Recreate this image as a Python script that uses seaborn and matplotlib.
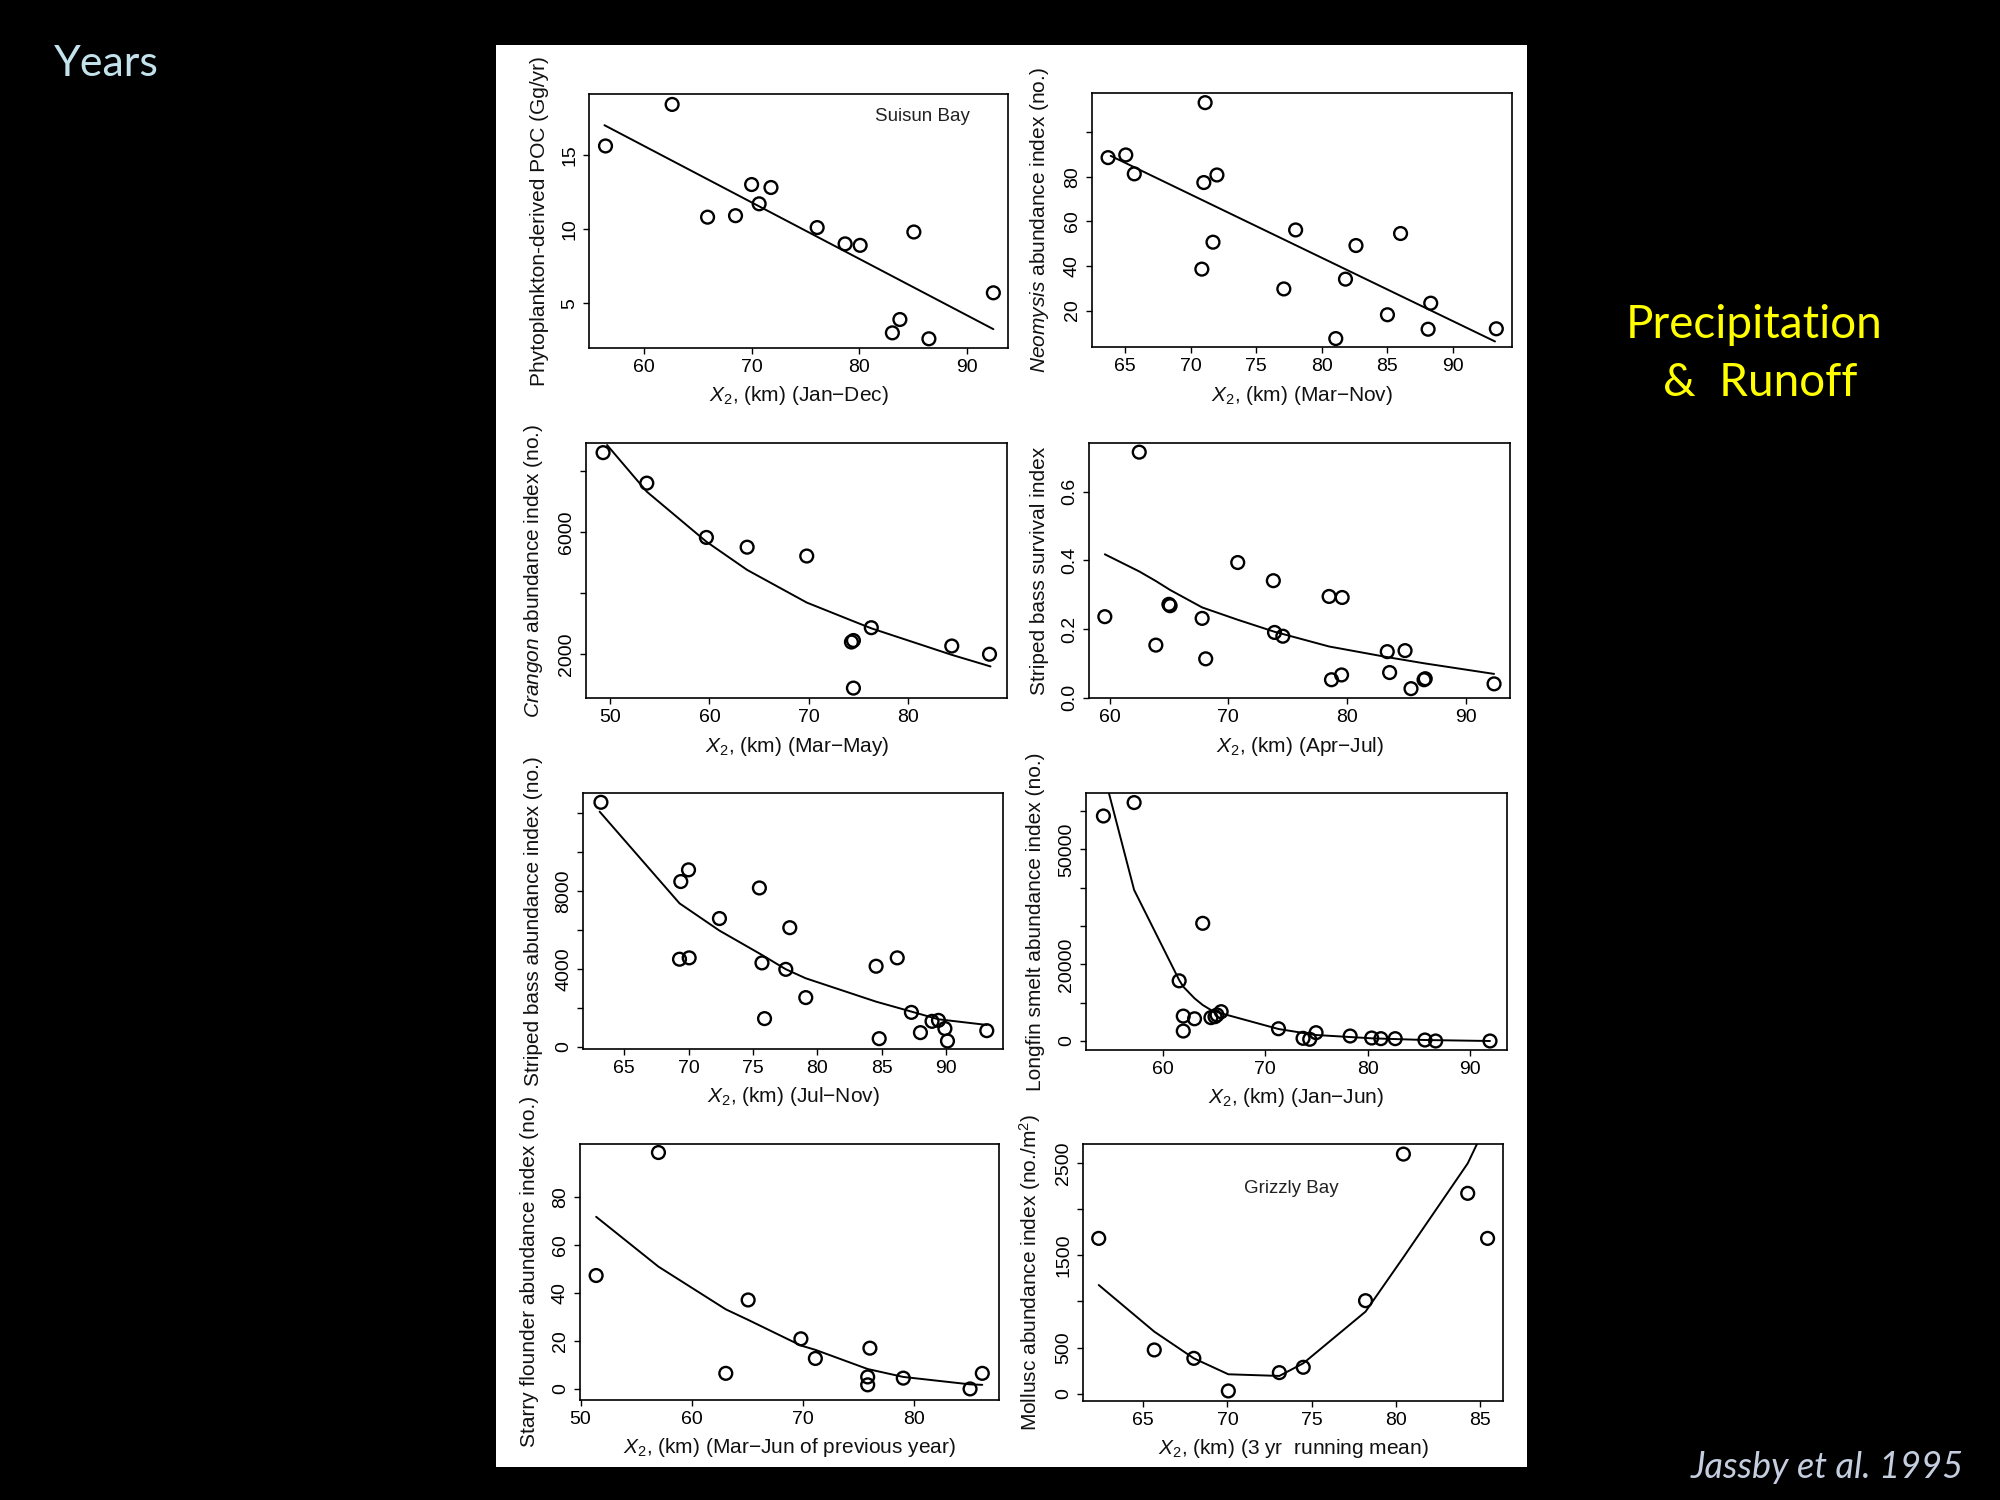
import matplotlib
matplotlib.use("Agg")
import matplotlib.pyplot as plt
from matplotlib.patches import Rectangle
import seaborn as sns

# Suisun Bay, phytoplankton-derived POC vs X2 (Jan-Dec)
poc_x = [56.4, 62.6, 65.9, 68.5, 70.0, 70.7, 71.8, 76.1, 78.7, 80.1, 85.1, 83.1, 83.8, 86.5, 92.5]
poc_y = [15.6, 18.4, 10.8, 10.9, 13.0, 11.7, 12.8, 10.1, 9.0, 8.9, 9.8, 3.0, 3.9, 2.6, 5.7]
poc_fit_x = [56.3, 92.5]
poc_fit_y = [17.0, 3.25]

# Neomysis (Mar-Nov)
neo_x = [63.7, 65.05, 65.7, 71.1, 71.0, 72.0, 71.7, 70.85, 77.1, 78.0, 81.06, 81.8, 82.6, 85.0, 86.0, 88.3, 88.1, 93.3]
neo_y = [88.7, 89.9, 81.4, 113.4, 77.5, 80.9, 50.7, 38.6, 29.7, 56.2, 7.4, 34.1, 49.2, 18.1, 54.6, 23.3, 11.6, 11.8]
neo_fit_x = [63.9, 93.2]
neo_fit_y = [89.5, 6.1]

# Crangon (Mar-May)
cra_x = [49.3, 53.7, 59.7, 63.8, 69.8, 74.3, 74.5, 74.5, 76.3, 84.4, 88.2]
cra_y = [8610, 7610, 5830, 5510, 5220, 2400, 2450, 890, 2870, 2270, 2000]
cra_fit_x = [49.7, 53.7, 59.7, 63.8, 69.8, 74.4, 76.3, 84.4, 88.3]
cra_fit_y = [8860, 7330, 5690, 4765, 3695, 3095, 2850, 1980, 1600]

# striped bass survival (Apr-Jul)
sbs_x = [62.5, 59.6, 63.9, 65.0, 65.1, 67.8, 68.1, 70.8, 73.8, 73.9, 74.6, 78.5, 79.6, 78.7, 79.55,
         83.4, 83.6, 84.9, 85.4, 86.5, 86.6, 92.4]
sbs_y = [0.716, 0.236, 0.153, 0.272, 0.268, 0.231, 0.113, 0.394, 0.341, 0.190, 0.179, 0.295, 0.292,
         0.052, 0.066, 0.134, 0.073, 0.137, 0.026, 0.052, 0.055, 0.040]
sbs_fit_x = [59.6, 62.5, 63.9, 65.1, 67.8, 70.8, 73.9, 78.5, 83.4, 86.5, 92.4]
sbs_fit_y = [0.418, 0.368, 0.340, 0.314, 0.263, 0.227, 0.192, 0.149, 0.118, 0.100, 0.069]

# striped bass abundance (Jul-Nov)
sba_x = [63.2, 69.4, 70.0, 69.3, 70.05, 72.4, 75.5, 75.7, 75.9, 77.55, 77.86, 79.1, 84.56, 84.8,
         86.2, 87.3, 88.0, 88.9, 89.4, 89.9, 90.1, 93.15]
sba_y = [12550, 8480, 9080, 4490, 4560, 6580, 8150, 4300, 1440, 3970, 6110, 2520, 4130, 410,
         4560, 1760, 720, 1300, 1350, 930, 290, 820]
sba_fit_x = [63.1, 69.3, 72.4, 75.7, 77.55, 79.1, 84.56, 87.3, 89.4, 93.15]
sba_fit_y = [12070, 7360, 5960, 4710, 3975, 3510, 2310, 1800, 1405, 1115]

# longfin smelt (Jan-Jun)
lfs_x = [54.2, 57.2, 63.9, 61.6, 62.0, 62.0, 63.1, 64.7, 65.1, 65.3, 65.7, 71.3, 73.7, 74.35, 74.97,
         78.3, 80.4, 81.3, 82.7, 85.6, 86.65, 91.96]
lfs_y = [58700, 62200, 30700, 15700, 6500, 2600, 5800, 6100, 6350, 6800, 7650, 3200, 700, 450, 2170,
         1300, 780, 610, 610, 260, 0, 0]
lfs_fit_x = [54.2, 57.2, 61.6, 62.0, 63.1, 63.9, 64.7, 65.7, 71.3, 74.97, 80.4, 85.6, 91.96]
lfs_fit_y = [70200, 39400, 15900, 14170, 11130, 9390, 8090, 7220, 3130, 1565, 700, 260, 0]

# starry flounder (Mar-Jun of previous year)
sf_x = [51.4, 57.0, 63.05, 65.06, 69.8, 71.1, 76.0, 75.8, 75.8, 79.0, 85.0, 86.1]
sf_y = [47.3, 98.6, 6.5, 37.1, 20.9, 12.7, 17.0, 5.0, 1.7, 4.5, 0.0, 6.5]
sf_fit_x = [51.4, 57.0, 63.05, 65.06, 69.8, 71.1, 75.8, 79.0, 85.0, 86.1]
sf_fit_y = [71.8, 51.0, 33.2, 28.8, 18.1, 16.3, 8.3, 5.0, 1.9, 1.7]

# Grizzly Bay molluscs (3 yr running mean)
mol_x = [62.35, 65.65, 68.0, 70.05, 73.08, 74.5, 78.2, 80.45, 84.27, 85.45]
mol_y = [1685, 474, 383, 29, 228, 286, 1009, 2600, 2174, 1685]
mol_fit_x = [62.35, 65.65, 68.0, 70.05, 73.08, 74.5, 78.2, 80.45, 84.27, 85.45]
mol_fit_y = [1179, 673, 383, 210, 192, 329, 890, 1480, 2499, 2950]

MINUS = '\u2212'

sns.set_theme(style="ticks")
plt.rcParams['font.family'] = ['Liberation Sans', 'DejaVu Sans']
plt.rcParams.update({
    'mathtext.fontset': 'custom',
    'mathtext.rm': 'Liberation Sans',
    'mathtext.it': 'Liberation Sans:italic',
    'mathtext.bf': 'Liberation Sans:bold',
    'axes.edgecolor': 'black',
    'axes.linewidth': 1.2,
    'xtick.color': 'black',
    'ytick.color': 'black',
    'xtick.major.size': 4.5,
    'ytick.major.size': 4.5,
    'xtick.major.width': 1.0,
    'ytick.major.width': 1.0,
    'xtick.major.pad': 3.5,
    'ytick.major.pad': 3.5,
})

panels = [
    dict(pos=[0.2947, 0.7682, 0.2095, 0.1691], x=poc_x, y=poc_y, fx=poc_fit_x, fy=poc_fit_y,
         xlim=(54.9, 93.9), ylim=(2.0, 19.1), xticks=[60, 70, 80, 90],
         yticks=[5, 10, 15], ylab=['5', '10', '15'],
         xlabel=r'$X_2$, (km) (Jan' + MINUS + 'Dec)',
         ylabel='Phytoplankton-derived POC (Gg/yr)', note=('Suisun Bay', 85.9, 17.6)),
    dict(pos=[0.5459, 0.7685, 0.2100, 0.1693], x=neo_x, y=neo_y, fx=neo_fit_x, fy=neo_fit_y,
         xlim=(62.46, 94.48), ylim=(3.5, 117.6), xticks=[65, 70, 75, 80, 85, 90],
         yticks=[20, 40, 60, 80, 100], ylab=['20', '40', '60', '80', ''],
         xlabel=r'$X_2$, (km) (Mar' + MINUS + 'Nov)',
         ylabel=r'$\mathit{Neomysis}$ abundance index (no.)', note=None),
    dict(pos=[0.2930, 0.5345, 0.2107, 0.1700], x=cra_x, y=cra_y, fx=cra_fit_x, fy=cra_fit_y,
         xlim=(47.58, 90.0), ylim=(557, 8918), xticks=[50, 60, 70, 80],
         yticks=[2000, 4000, 6000, 8000], ylab=['2000', '', '6000', ''],
         xlabel=r'$X_2$, (km) (Mar' + MINUS + 'May)',
         ylabel=r'$\mathit{Crangon}$ abundance index (no.)', note=None),
    dict(pos=[0.5447, 0.5345, 0.2104, 0.1700], x=sbs_x, y=sbs_y, fx=sbs_fit_x, fy=sbs_fit_y,
         xlim=(58.3, 93.76), ylim=(-0.002, 0.742), xticks=[60, 70, 80, 90],
         yticks=[0.0, 0.2, 0.4, 0.6], ylab=['0.0', '0.2', '0.4', '0.6'],
         xlabel=r'$X_2$, (km) (Apr' + MINUS + 'Jul)',
         ylabel='Striped bass survival index', note=None),
    dict(pos=[0.2917, 0.3009, 0.2100, 0.1707], x=sba_x, y=sba_y, fx=sba_fit_x, fy=sba_fit_y,
         xlim=(61.84, 94.44), ylim=(-103, 13048), xticks=[65, 70, 75, 80, 85, 90],
         yticks=[0, 2000, 4000, 6000, 8000, 10000, 12000], ylab=['0', '', '4000', '', '8000', '', ''],
         xlabel=r'$X_2$, (km) (Jul' + MINUS + 'Nov)',
         ylabel='Striped bass abundance index (no.)', note=None),
    dict(pos=[0.5430, 0.3000, 0.2103, 0.1711], x=lfs_x, y=lfs_y, fx=lfs_fit_x, fy=lfs_fit_y,
         xlim=(52.5, 93.58), ylim=(-2348, 64609), xticks=[60, 70, 80, 90],
         yticks=[0, 10000, 20000, 30000, 40000, 50000, 60000],
         ylab=['0', '', '20000', '', '', '50000', ''],
         xlabel=r'$X_2$, (km) (Jan' + MINUS + 'Jun)',
         ylabel='Longfin smelt abundance index (no.)', note=None),
    dict(pos=[0.2900, 0.0667, 0.2095, 0.1707], x=sf_x, y=sf_y, fx=sf_fit_x, fy=sf_fit_y,
         xlim=(49.95, 87.6), ylim=(-4.6, 102.2), xticks=[50, 60, 70, 80],
         yticks=[0, 20, 40, 60, 80], ylab=['0', '20', '40', '60', '80'],
         xlabel=r'$X_2$, (km) (Mar' + MINUS + 'Jun of previous year)',
         ylabel='Starry flounder abundance index (no.)', note=None),
    dict(pos=[0.5417, 0.0660, 0.2100, 0.1713], x=mol_x, y=mol_y, fx=mol_fit_x, fy=mol_fit_y,
         xlim=(61.44, 86.39), ylim=(-80, 2709), xticks=[65, 70, 75, 80, 85],
         yticks=[0, 500, 1000, 1500, 2000, 2500], ylab=['0', '500', '', '1500', '', '2500'],
         xlabel=r'$X_2$, (km) (3 yr  running mean)',
         ylabel=r'Mollusc abundance index (no./m$^2$)', note=('Grizzly Bay', 73.8, 2228)),
]

fig = plt.figure(figsize=(20, 15), dpi=100)
fig.patch.set_facecolor('black')
fig.add_artist(Rectangle((0.248, 0.022), 0.5155, 0.948, transform=fig.transFigure,
                         facecolor='white', edgecolor='none', zorder=-1))

for p in panels:
    ax = fig.add_axes(p['pos'])
    ax.set_facecolor('white')
    sns.lineplot(x=p['fx'], y=p['fy'], ax=ax, color='black', linewidth=1.4,
                 estimator=None, sort=False)
    sns.scatterplot(x=p['x'], y=p['y'], ax=ax, s=85, facecolor='none',
                    edgecolor='black', linewidth=1.7, zorder=3)
    ax.set_xlim(p['xlim'])
    ax.set_ylim(p['ylim'])
    ax.set_xticks(p['xticks'])
    ax.set_xticklabels([str(t) for t in p['xticks']], fontsize=14)
    ax.set_yticks(p['yticks'])
    ax.set_yticklabels(p['ylab'], fontsize=14, rotation=90, va='center')
    for side in ['top', 'right', 'left', 'bottom']:
        ax.spines[side].set_visible(True)
        ax.spines[side].set_color('black')
    ax.set_xlabel(p['xlabel'], fontsize=15, labelpad=6, color='#111111')
    ax.set_ylabel(p['ylabel'], fontsize=15, labelpad=9, color='#111111')
    if p['note'] is not None:
        ax.text(p['note'][1], p['note'][2], p['note'][0], fontsize=13.5,
                ha='center', va='center', color='#222222')

fig.text(0.027, 1 - 64 / 1500, 'Years', color='#c3e2ec', fontsize=31,
         family='Lato', ha='left', va='center')
fig.text(1754 / 2000, 1 - 325 / 1500, 'Precipitation', color='#ffff00', fontsize=33,
         family='Lato', ha='center', va='center')
fig.text(1760 / 2000, 1 - 383 / 1500, '&  Runoff', color='#ffff00', fontsize=33,
         family='Lato', ha='center', va='center')
fig.text(1964 / 2000, 1 - 1467 / 1500, 'Jassby et al. 1995', color='#c4cedf', fontsize=26,
         family='Lato', style='italic', ha='right', va='center')

fig.savefig('out.png', dpi=100, facecolor='black')
